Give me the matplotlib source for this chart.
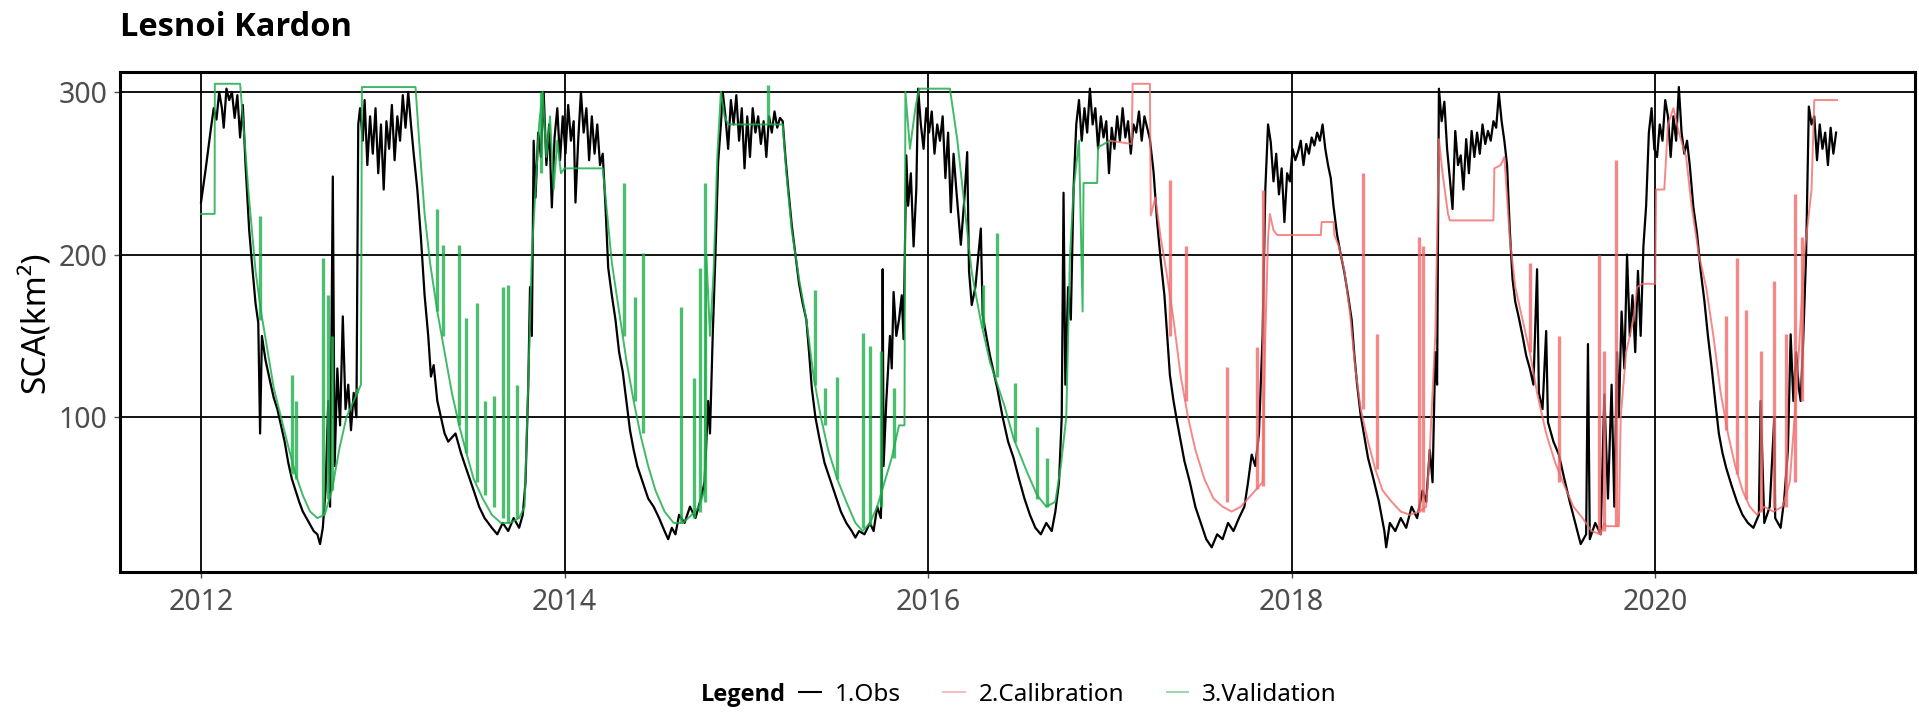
import matplotlib
matplotlib.use("Agg")
import matplotlib.pyplot as plt
from matplotlib.lines import Line2D
from matplotlib import font_manager as fm

plt.rcParams['font.family'] = ['Noto Sans', 'DejaVu Sans']


def has_bold(fam):
    for f in fm.fontManager.ttflist:
        if f.name == fam:
            w = f.weight
            if isinstance(w, str):
                if w.lower() in ("bold", "semibold", "demibold", "heavy", "black", "extra bold", "ultrabold"):
                    return True
            elif w >= 600:
                return True
    return False


bold_family = "DejaVu Sans"
for fam in ["Noto Sans", "Open Sans", "Lato", "Roboto"]:
    if has_bold(fam):
        bold_family = fam
        break

title = "Lesnoi Kardon"
y_label = "SCA(km²)"
legend_title = "Legend"
series_names = ["1.Obs", "2.Calibration", "3.Validation"]
x_ticks = [2012, 2014, 2016, 2018, 2020]
y_ticks = [100, 200, 300]
split_year = 2017.0  # validation before, calibration after

# Observed snow-covered area (decimal year, km2)
obs_year = [
    2012.000, 2012.010, 2012.025, 2012.040, 2012.055, 2012.070, 2012.085, 2012.100, 2012.115, 2012.125,
    2012.140, 2012.155, 2012.170, 2012.185, 2012.200, 2012.215, 2012.230, 2012.245, 2012.265, 2012.280,
    2012.300, 2012.315, 2012.325, 2012.335, 2012.355, 2012.380, 2012.400, 2012.420, 2012.440, 2012.460,
    2012.480, 2012.500, 2012.520, 2012.540, 2012.560, 2012.580, 2012.600, 2012.620, 2012.640, 2012.655,
    2012.670, 2012.685, 2012.700, 2012.710, 2012.725, 2012.735, 2012.750, 2012.765, 2012.780, 2012.795,
    2012.810, 2012.825, 2012.840, 2012.855, 2012.865, 2012.875, 2012.890, 2012.900, 2012.915, 2012.930,
    2012.945, 2012.960, 2012.975, 2012.990, 2013.005, 2013.020, 2013.035, 2013.050, 2013.065, 2013.080,
    2013.095, 2013.110, 2013.125, 2013.140, 2013.155, 2013.170, 2013.190, 2013.210, 2013.230, 2013.250,
    2013.265, 2013.280, 2013.300, 2013.320, 2013.340, 2013.360, 2013.400, 2013.430, 2013.460, 2013.500,
    2013.530, 2013.560, 2013.600, 2013.630, 2013.660, 2013.690, 2013.720, 2013.750, 2013.770, 2013.785,
    2013.800, 2013.810, 2013.820, 2013.830, 2013.840, 2013.855, 2013.870, 2013.885, 2013.900, 2013.915,
    2013.930, 2013.945, 2013.960, 2013.975, 2013.990, 2014.005, 2014.020, 2014.035, 2014.050, 2014.060,
    2014.075, 2014.090, 2014.105, 2014.120, 2014.135, 2014.150, 2014.165, 2014.180, 2014.195, 2014.210,
    2014.225, 2014.240, 2014.260, 2014.280, 2014.300, 2014.320, 2014.340, 2014.360, 2014.380, 2014.400,
    2014.430, 2014.460, 2014.490, 2014.520, 2014.550, 2014.570, 2014.590, 2014.610, 2014.630, 2014.660,
    2014.690, 2014.720, 2014.750, 2014.770, 2014.790, 2014.800, 2014.815, 2014.830, 2014.845, 2014.860,
    2014.870, 2014.885, 2014.900, 2014.915, 2014.930, 2014.945, 2014.960, 2014.975, 2014.990, 2015.005,
    2015.020, 2015.035, 2015.050, 2015.065, 2015.080, 2015.095, 2015.110, 2015.125, 2015.140, 2015.155,
    2015.170, 2015.185, 2015.200, 2015.215, 2015.230, 2015.250, 2015.270, 2015.290, 2015.310, 2015.330,
    2015.345, 2015.360, 2015.380, 2015.400, 2015.430, 2015.460, 2015.490, 2015.520, 2015.550, 2015.580,
    2015.600, 2015.620, 2015.650, 2015.680, 2015.700, 2015.720, 2015.740, 2015.745, 2015.750, 2015.755,
    2015.770, 2015.790, 2015.800, 2015.810, 2015.825, 2015.840, 2015.855, 2015.865, 2015.880, 2015.890,
    2015.905, 2015.920, 2015.935, 2015.945, 2015.960, 2015.975, 2015.990, 2016.005, 2016.020, 2016.035,
    2016.050, 2016.065, 2016.080, 2016.095, 2016.110, 2016.125, 2016.140, 2016.155, 2016.170, 2016.180,
    2016.200, 2016.215, 2016.225, 2016.240, 2016.260, 2016.290, 2016.300, 2016.320, 2016.340, 2016.360,
    2016.380, 2016.410, 2016.440, 2016.470, 2016.500, 2016.530, 2016.560, 2016.590, 2016.620, 2016.650,
    2016.680, 2016.700, 2016.720, 2016.735, 2016.745, 2016.755, 2016.770, 2016.785, 2016.800, 2016.815,
    2016.830, 2016.845, 2016.860, 2016.875, 2016.890, 2016.905, 2016.920, 2016.935, 2016.950, 2016.965,
    2016.980, 2016.995, 2017.010, 2017.025, 2017.040, 2017.055, 2017.070, 2017.085, 2017.100, 2017.115,
    2017.130, 2017.145, 2017.160, 2017.175, 2017.190, 2017.205, 2017.220, 2017.240, 2017.260, 2017.280,
    2017.300, 2017.315, 2017.330, 2017.350, 2017.370, 2017.390, 2017.410, 2017.440, 2017.470, 2017.500,
    2017.530, 2017.560, 2017.590, 2017.620, 2017.650, 2017.680, 2017.710, 2017.740, 2017.760, 2017.780,
    2017.800, 2017.820, 2017.840, 2017.855, 2017.870, 2017.885, 2017.900, 2017.915, 2017.930, 2017.945,
    2017.960, 2017.975, 2017.990, 2018.005, 2018.020, 2018.035, 2018.050, 2018.065, 2018.080, 2018.095,
    2018.110, 2018.125, 2018.140, 2018.155, 2018.170, 2018.185, 2018.200, 2018.215, 2018.230, 2018.250,
    2018.270, 2018.290, 2018.310, 2018.330, 2018.345, 2018.360, 2018.380, 2018.400, 2018.420, 2018.450,
    2018.480, 2018.510, 2018.520, 2018.540, 2018.570, 2018.600, 2018.630, 2018.660, 2018.690, 2018.720,
    2018.740, 2018.760, 2018.775, 2018.790, 2018.800, 2018.810, 2018.825, 2018.840, 2018.855, 2018.870,
    2018.885, 2018.900, 2018.915, 2018.930, 2018.945, 2018.960, 2018.975, 2018.990, 2019.005, 2019.020,
    2019.035, 2019.050, 2019.065, 2019.080, 2019.095, 2019.110, 2019.125, 2019.140, 2019.155, 2019.170,
    2019.185, 2019.200, 2019.215, 2019.230, 2019.250, 2019.270, 2019.290, 2019.310, 2019.330, 2019.350,
    2019.360, 2019.380, 2019.400, 2019.410, 2019.440, 2019.470, 2019.500, 2019.530, 2019.560, 2019.590,
    2019.620, 2019.630, 2019.640, 2019.670, 2019.700, 2019.720, 2019.740, 2019.760, 2019.775, 2019.790,
    2019.800, 2019.815, 2019.830, 2019.845, 2019.860, 2019.875, 2019.890, 2019.905, 2019.920, 2019.935,
    2019.950, 2019.965, 2019.980, 2019.995, 2020.010, 2020.025, 2020.040, 2020.055, 2020.070, 2020.085,
    2020.100, 2020.115, 2020.130, 2020.145, 2020.160, 2020.175, 2020.190, 2020.210, 2020.230, 2020.250,
    2020.270, 2020.290, 2020.310, 2020.330, 2020.350, 2020.370, 2020.390, 2020.420, 2020.450, 2020.480,
    2020.510, 2020.540, 2020.570, 2020.580, 2020.600, 2020.630, 2020.655, 2020.660, 2020.690, 2020.710,
    2020.730, 2020.745, 2020.760, 2020.775, 2020.790, 2020.800, 2020.815, 2020.830, 2020.845, 2020.860,
    2020.875, 2020.890, 2020.905, 2020.920, 2020.935, 2020.950, 2020.965, 2020.980, 2020.995,
]
obs_sca = [
    232, 240, 252, 265, 278, 290, 283, 300, 290, 278,
    302, 295, 300, 284, 298, 272, 292, 255, 215, 195,
    170, 158, 90, 150, 135, 122, 112, 105, 95, 85,
    72, 62, 55, 48, 42, 38, 34, 30, 28, 22,
    32, 55, 110, 45, 248, 70, 130, 95, 162, 105,
    120, 92, 115, 100, 280, 290, 270, 295, 255, 285,
    262, 290, 250, 280, 240, 282, 265, 292, 258, 285,
    270, 298, 278, 300, 280, 262, 240, 210, 175, 150,
    125, 132, 110, 100, 90, 85, 90, 78, 68, 55,
    45, 38, 32, 28, 35, 30, 38, 32, 40, 60,
    118, 180, 150, 270, 235, 275, 260, 300, 255, 280,
    229, 272, 290, 258, 285, 262, 292, 270, 282, 232,
    270, 300, 275, 290, 258, 285, 262, 280, 255, 262,
    230, 192, 175, 160, 140, 128, 110, 92, 80, 70,
    60, 50, 45, 38, 30, 25, 32, 28, 40, 35,
    45, 38, 50, 60, 110, 90, 150, 200, 257, 280,
    300, 285, 265, 295, 280, 298, 270, 290, 253, 285,
    260, 290, 275, 285, 268, 282, 260, 285, 275, 288,
    278, 284, 282, 260, 241, 218, 200, 182, 170, 160,
    140, 118, 100, 88, 72, 62, 52, 42, 35, 30,
    26, 30, 28, 35, 30, 45, 38, 60, 191, 70,
    110, 150, 130, 177, 150, 160, 175, 148, 261, 230,
    250, 205, 240, 302, 280, 265, 290, 275, 288, 262,
    280, 270, 285, 247, 275, 226, 262, 240, 220, 206,
    235, 263, 190, 169, 180, 216, 163, 150, 138, 128,
    118, 100, 85, 75, 62, 50, 40, 32, 28, 35,
    30, 42, 60, 100, 238, 120, 180, 160, 240, 280,
    295, 270, 290, 275, 302, 280, 290, 265, 285, 272,
    282, 250, 278, 265, 285, 270, 290, 272, 282, 262,
    280, 275, 288, 270, 285, 278, 271, 251, 220, 196,
    175, 150, 126, 110, 97, 85, 73, 60, 45, 35,
    25, 20, 28, 25, 35, 30, 38, 45, 60, 77,
    70, 90, 150, 240, 280, 269, 245, 262, 237, 253,
    220, 250, 245, 265, 258, 263, 270, 255, 268, 262,
    272, 267, 275, 270, 280, 265, 255, 247, 230, 212,
    200, 189, 175, 160, 138, 120, 101, 88, 75, 62,
    48, 30, 20, 35, 30, 38, 32, 45, 38, 55,
    48, 80, 60, 140, 120, 302, 282, 294, 265, 247,
    228, 276, 255, 261, 240, 271, 250, 276, 260, 275,
    262, 280, 268, 276, 270, 282, 278, 299, 282, 270,
    255, 215, 185, 171, 161, 150, 138, 130, 120, 191,
    115, 105, 153, 97, 85, 77, 62, 48, 35, 22,
    28, 145, 25, 35, 28, 114, 50, 120, 45, 140,
    100, 165, 130, 200, 150, 175, 140, 190, 150, 205,
    230, 275, 290, 265, 260, 280, 270, 295, 285, 260,
    285, 270, 303, 275, 262, 270, 255, 229, 213, 190,
    172, 150, 131, 110, 90, 78, 69, 58, 48, 40,
    35, 32, 40, 110, 35, 45, 100, 38, 32, 50,
    80, 151, 110, 140, 118, 110, 150, 200, 291, 280,
    285, 258, 280, 265, 275, 255, 278, 262, 275,
]

# Simulated SCA (one continuous run; coloured by period)
sim_year = [
    2012.000, 2012.075, 2012.076, 2012.215, 2012.240, 2012.260, 2012.280, 2012.300, 2012.330, 2012.360,
    2012.400, 2012.440, 2012.480, 2012.520, 2012.560, 2012.600, 2012.640, 2012.680, 2012.720, 2012.760,
    2012.800, 2012.840, 2012.880, 2012.885, 2013.180, 2013.200, 2013.230, 2013.260, 2013.300, 2013.340,
    2013.380, 2013.420, 2013.460, 2013.500, 2013.550, 2013.600, 2013.650, 2013.700, 2013.750, 2013.780,
    2013.800, 2013.820, 2013.840, 2013.860, 2013.880, 2013.900, 2013.920, 2013.940, 2013.960, 2013.980,
    2014.000, 2014.210, 2014.230, 2014.260, 2014.300, 2014.340, 2014.380, 2014.420, 2014.460, 2014.500,
    2014.550, 2014.600, 2014.650, 2014.700, 2014.740, 2014.770, 2014.780, 2014.800, 2014.820, 2014.840,
    2014.860, 2014.880, 2014.900, 2015.200, 2015.220, 2015.250, 2015.290, 2015.330, 2015.370, 2015.410,
    2015.450, 2015.500, 2015.550, 2015.600, 2015.640, 2015.680, 2015.720, 2015.760, 2015.800, 2015.840,
    2015.870, 2015.875, 2015.900, 2015.930, 2015.950, 2016.120, 2016.160, 2016.200, 2016.240, 2016.290,
    2016.340, 2016.420, 2016.470, 2016.545, 2016.600, 2016.650, 2016.700, 2016.730, 2016.760, 2016.780,
    2016.800, 2016.830, 2016.850, 2016.855, 2016.930, 2016.935, 2017.000,
    2017.120, 2017.125, 2017.220, 2017.225, 2017.250, 2017.280, 2017.310, 2017.350, 2017.390, 2017.430,
    2017.470, 2017.520, 2017.570, 2017.620, 2017.670, 2017.720, 2017.760, 2017.800, 2017.840, 2017.855,
    2017.870, 2017.880, 2017.900, 2017.920, 2018.160, 2018.165, 2018.230, 2018.235, 2018.260, 2018.290,
    2018.320, 2018.350, 2018.380, 2018.420, 2018.460, 2018.500, 2018.550, 2018.600, 2018.650, 2018.700,
    2018.740, 2018.760, 2018.790, 2018.810, 2018.830, 2018.860, 2018.870, 2019.110, 2019.115, 2019.150,
    2019.170, 2019.200, 2019.230, 2019.270, 2019.310, 2019.350, 2019.400, 2019.450, 2019.500, 2019.550,
    2019.600, 2019.650, 2019.700, 2019.720, 2019.730, 2019.800, 2019.810, 2019.840, 2019.880, 2019.900,
    2019.930, 2020.000, 2020.005, 2020.050, 2020.070, 2020.100, 2020.130, 2020.170, 2020.200, 2020.240,
    2020.280, 2020.320, 2020.360, 2020.400, 2020.440, 2020.480, 2020.520, 2020.560, 2020.600, 2020.650,
    2020.700, 2020.740, 2020.780, 2020.820, 2020.860, 2020.875, 2021.000,
]
sim_sca = [
    225, 225, 305, 305, 270, 240, 215, 190, 165, 145,
    118, 100, 82, 65, 52, 42, 38, 40, 55, 80,
    100, 110, 120, 303, 303, 270, 225, 195, 165, 140,
    115, 95, 78, 62, 50, 40, 35, 35, 38, 45,
    120, 200, 240, 280, 300, 260, 285, 240, 270, 250,
    253, 253, 230, 195, 165, 135, 110, 88, 70, 55,
    42, 35, 35, 40, 45, 55, 200, 150, 190, 260,
    300, 285, 280, 280, 250, 215, 185, 160, 125, 100,
    80, 62, 48, 35, 30, 35, 45, 60, 75, 95,
    95, 300, 265, 290, 302, 302, 271, 230, 189, 159,
    134, 107, 87, 66, 52, 45, 48, 70, 100, 198,
    240, 270, 165, 244, 244, 266, 270,
    268, 305, 305, 224, 235, 210, 190, 160, 125, 100,
    80, 62, 50, 45, 42, 45, 50, 55, 60, 150,
    210, 225, 215, 212, 212, 220, 220, 212, 205, 190,
    165, 130, 105, 85, 68, 55, 48, 42, 40, 42,
    45, 80, 150, 271, 250, 225, 221, 221, 253, 255,
    260, 210, 180, 160, 140, 115, 90, 72, 58, 45,
    38, 30, 28, 35, 33, 33, 100, 140, 160, 180,
    182, 182, 240, 240, 280, 290, 275, 260, 230, 200,
    180, 150, 115, 90, 70, 55, 45, 40, 45, 42,
    45, 60, 120, 200, 240, 295, 295,
]

# Short single-day spikes of the simulation (year, base, peak)
spike_year = [
    2012.325, 2012.500, 2012.520, 2012.670, 2012.700, 2012.720, 2012.860, 2013.300, 2013.330, 2013.420,
    2013.460, 2013.520, 2013.560, 2013.610, 2013.660, 2013.690, 2013.740, 2013.870, 2014.325, 2014.390,
    2014.430, 2014.640, 2014.710, 2014.745, 2014.775, 2015.120, 2015.380, 2015.430, 2015.500, 2015.640,
    2015.680, 2015.740, 2015.810, 2016.300, 2016.380, 2016.480, 2016.600, 2016.655,
    2017.330, 2017.420, 2017.645, 2017.810, 2017.840, 2018.390, 2018.470, 2018.700, 2018.720, 2019.310,
    2019.470, 2019.690, 2019.720, 2019.785, 2020.390, 2020.450, 2020.500, 2020.580, 2020.655, 2020.720,
    2020.770, 2020.810,
]
spike_base = [
    160, 65, 62, 40, 50, 55, 115, 165, 150, 95,
    78, 60, 52, 45, 38, 35, 38, 250, 150, 110,
    90, 35, 38, 42, 48, 280, 120, 95, 62, 32,
    34, 45, 75, 155, 125, 85, 50, 45,
    150, 110, 48, 56, 58, 105, 68, 42, 42, 140,
    60, 28, 30, 33, 92, 65, 50, 42, 44, 45,
    60, 110,
]
spike_peak = [
    224, 126, 110, 198, 175, 150, 118, 228, 206, 206,
    161, 170, 110, 113, 180, 181, 120, 300, 244, 174,
    201, 168, 124, 192, 244, 304, 178, 118, 125, 152,
    144, 141, 118, 181, 213, 121, 94, 75,
    246, 205, 131, 143, 240, 250, 151, 211, 205, 195,
    150, 200, 141, 258, 162, 198, 166, 141, 184, 151,
    237, 211,
]

obs_color = "black"
cal_color = "#f26b6b"
val_color = "#1fae4c"

fig = plt.figure(figsize=(19.19, 7.12), dpi=100)
ax = fig.add_axes([0.0625, 0.197, 0.9355, 0.702])

ax.plot(obs_year, obs_sca, color=obs_color, lw=1.6, zorder=3)

val_x = [t for t in sim_year if t <= split_year]
val_y = [v for t, v in zip(sim_year, sim_sca) if t <= split_year]
cal_x = [t for t in sim_year if t >= split_year]
cal_y = [v for t, v in zip(sim_year, sim_sca) if t >= split_year]
ax.plot(val_x, val_y, color=val_color, lw=1.4, alpha=0.85, zorder=4)
ax.plot(cal_x, cal_y, color=cal_color, lw=1.4, alpha=0.8, zorder=4)

for t, lo, hi in zip(spike_year, spike_base, spike_peak):
    c = val_color if t < split_year else cal_color
    ax.vlines(t, lo, hi, color=c, lw=2.4, alpha=0.8, zorder=4)

ax.set_xlim(2011.554, 2021.43)
ax.set_ylim(5, 312.3)
ax.set_xticks(x_ticks)
ax.set_xticklabels([str(v) for v in x_ticks])
ax.set_yticks(y_ticks)
ax.grid(True, color="black", lw=1.3)
ax.set_axisbelow(True)
for s in ax.spines.values():
    s.set_color("black")
    s.set_linewidth(2.2)
ax.tick_params(axis="both", colors="#4d4d4d", labelsize=20.5, length=4, width=1.0, pad=5)
ax.tick_params(axis="x", pad=8)
ax.set_ylabel(y_label, fontsize=24, color="black", labelpad=4)

fig.text(0.0625, 0.962, title, fontsize=23.5, fontweight="bold", family=bold_family,
         ha="left", va="center")

# legend: bold title on the left, entries in a row
fig.text(0.365, 0.024, legend_title, fontsize=17, fontweight="bold", family=bold_family,
         ha="left", va="center")
handles = [
    Line2D([], [], color=obs_color, lw=1.5),
    Line2D([], [], color=cal_color, lw=1.5, alpha=0.45),
    Line2D([], [], color=val_color, lw=1.5, alpha=0.45),
]
fig.legend(handles, series_names, loc="center left",
           bbox_to_anchor=(0.4165, 0.024), ncol=3, frameon=False,
           fontsize=17.5, handlelength=0.9, handletextpad=0.55, columnspacing=1.75,
           borderpad=0, borderaxespad=0)

fig.savefig("out.png", dpi=100, facecolor="white")
